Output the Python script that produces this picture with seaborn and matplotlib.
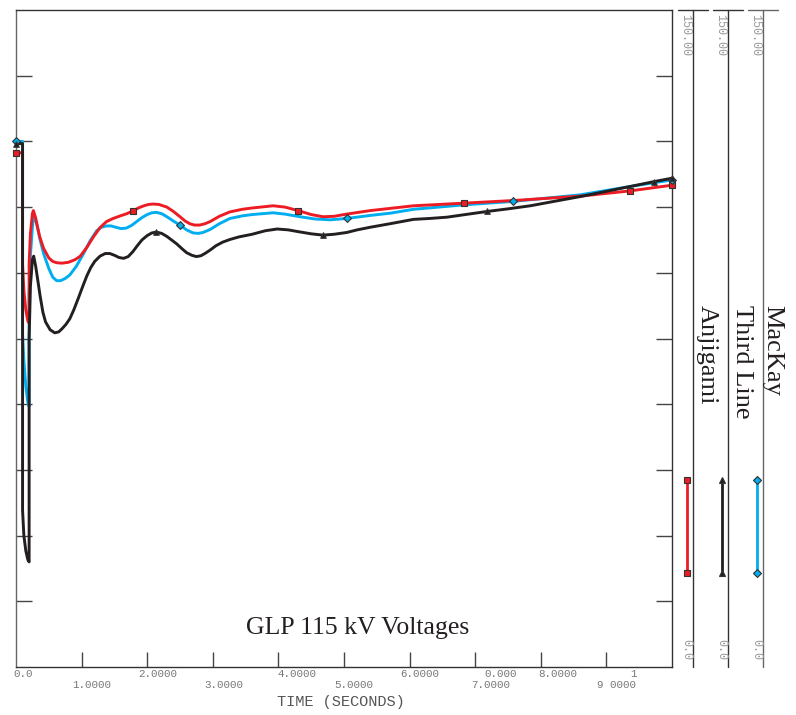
import numpy as np
import pandas as pd
import matplotlib
matplotlib.use("Agg")
import matplotlib.pyplot as plt
import matplotlib.transforms as mtransforms
from matplotlib.lines import Line2D
import seaborn as sns

# ---------------- data ----------------
time_anjigami = [0.0, 0.1, 0.1, 0.12, 0.15, 0.18, 0.2, 0.2, 0.22, 0.25, 0.265, 0.3, 0.33, 0.36,
                 0.42, 0.5, 0.56, 0.62, 0.7, 0.8, 0.9, 0.98, 1.08, 1.18, 1.28, 1.38, 1.48,
                 1.59, 1.69, 1.79, 1.88, 1.95, 2.02, 2.09, 2.18, 2.3, 2.4, 2.5, 2.58, 2.65,
                 2.72, 2.8, 2.88, 2.96, 3.1, 3.26, 3.45, 3.6, 3.92, 4.1, 4.30, 4.5, 4.68,
                 4.85, 5.04, 5.4, 5.7, 6.06, 6.83, 7.58, 8.6, 9.36, 10.0]
volt_anjigami = [117.4, 117.4, 92.0, 86.0, 81.5, 79.0, 78.5, 92.0, 99.0, 103.5, 104.2, 102.5, 100.3, 98.3,
                 95.6, 93.4, 92.6, 92.3, 92.2, 92.4, 93.0, 93.8, 95.8, 98.2, 100.3, 101.7, 102.4,
                 103.0, 103.5, 104.2, 104.9, 105.3, 105.6, 105.7, 105.6, 105.0, 104.0, 102.8, 101.8, 101.2,
                 100.9, 100.9, 101.2, 101.7, 102.9, 103.9, 104.5, 104.8, 105.3, 105.0, 104.2, 103.3, 102.8,
                 102.9, 103.4, 104.2, 104.7, 105.3, 105.9, 106.5, 107.5, 108.7, 110.0]

time_third = [0.0, 0.1, 0.1, 0.12, 0.15, 0.18, 0.2, 0.2, 0.22, 0.25, 0.27, 0.3, 0.33, 0.37,
              0.41, 0.45, 0.52, 0.59, 0.65, 0.7, 0.76, 0.82, 0.88, 0.95, 1.02, 1.08, 1.14,
              1.2, 1.28, 1.36, 1.43, 1.5, 1.57, 1.64, 1.71, 1.78, 1.85, 1.92, 2.0, 2.07,
              2.14, 2.22, 2.3, 2.38, 2.45, 2.53, 2.6, 2.68, 2.75, 2.82, 2.89, 2.96, 3.05,
              3.15, 3.26, 3.4, 3.6, 3.8, 3.98, 4.15, 4.3, 4.5, 4.68, 4.85, 5.04, 5.2,
              5.4, 5.7, 6.06, 6.3, 6.57, 6.85, 7.18, 7.5, 7.84, 8.2, 8.6, 9.0, 9.36, 9.72, 10.0]
volt_third = [119.5, 119.5, 35.8, 30.0, 26.5, 24.5, 24.0, 75.0, 87.0, 93.0, 93.8, 91.5, 88.5, 84.5,
              81.0, 78.8, 77.0, 76.3, 76.5, 77.2, 78.2, 79.5, 81.5, 84.2, 87.0, 89.3, 91.2,
              92.6, 93.8, 94.4, 94.4, 94.0, 93.5, 93.3, 93.7, 94.8, 96.2, 97.5, 98.5, 99.1,
              99.3, 99.0, 98.3, 97.4, 96.6, 95.5, 94.6, 94.0, 93.7, 93.9, 94.5, 95.2, 96.2,
              97.0, 97.6, 98.2, 98.8, 99.6, 100.0, 99.8, 99.4, 98.9, 98.6, 98.8, 99.2, 99.8,
              100.4, 101.2, 102.2, 102.4, 102.7, 103.3, 104.0, 104.6, 105.3, 106.3, 107.4, 108.6, 109.7, 110.8, 111.6]

time_mackay = [0.0, 0.1, 0.1, 0.12, 0.15, 0.18, 0.2, 0.2, 0.22, 0.25, 0.27, 0.3, 0.33, 0.36,
               0.42, 0.5, 0.56, 0.62, 0.68, 0.75, 0.82, 0.92, 1.03, 1.13, 1.23, 1.3, 1.38,
               1.45, 1.52, 1.6, 1.68, 1.76, 1.84, 1.92, 2.0, 2.07, 2.14, 2.22, 2.3, 2.4,
               2.5, 2.6, 2.7, 2.78, 2.85, 2.96, 3.1, 3.26, 3.45, 3.6, 3.92, 4.1, 4.33,
               4.55, 4.79, 5.04, 5.4, 5.7, 6.06, 6.82, 7.58, 8.6, 9.36, 10.0]
volt_mackay = [120.0, 120.0, 76.0, 70.0, 64.0, 60.5, 59.5, 85.0, 94.0, 100.5, 103.2, 102.0, 100.2, 98.0,
               94.4, 91.0, 89.0, 88.2, 88.2, 88.7, 89.5, 91.5, 94.4, 97.3, 99.6, 100.4, 100.7,
               100.7, 100.4, 100.1, 100.2, 100.8, 101.7, 102.6, 103.3, 103.7, 103.8, 103.5, 102.8, 101.8,
               100.9, 99.8, 99.1, 99.0, 99.2, 99.9, 101.2, 102.4, 103.0, 103.3, 103.7, 103.4, 102.8,
               102.3, 102.1, 102.4, 103.1, 103.6, 104.5, 105.5, 106.3, 107.8, 109.7, 111.2]

marker_times_anjigami = [0.0, 1.79, 4.30, 6.83, 9.36, 10.0]
marker_times_third = [0.0, 2.14, 4.68, 7.18, 9.72, 10.0]
marker_times_mackay = [0.0, 2.50, 5.04, 7.58, 10.0]

series_names = ["Anjigami", "Third Line", "MacKay"]
x_tick_values = [1, 2, 3, 4, 5, 6, 7, 8, 9]
y_tick_values = [15, 30, 45, 60, 75, 90, 105, 120, 135]
x_tick_labels = ["0.0", "1.0000", "2.0000", "3.0000", "4.0000", "5.0000", "6.0000",
                 "0.000", "7.0000", "8.0000", "9 0000", "1"]
x_tick_label_pos = [0.114, 1.159, 2.165, 3.17, 4.28, 5.15, 6.16, 7.39, 7.24, 8.26, 9.16, 9.41]
x_tick_label_row = [0, 1, 0, 1, 0, 1, 0, 0, 1, 0, 1, 0]
axis_top_label = "150.00"
axis_bottom_label = "0.0"
title_text = "GLP 115 kV Voltages"
xlabel_text = "TIME (SECONDS)"

RED = "#ED1C24"
BLUE = "#00AEEF"
BLACK = "#231F20"

# ---------------- figure ----------------
sns.set_style("white")
W, H = 796, 715
fig = plt.figure(figsize=(W / 100, H / 100), dpi=100)
L, R, T, B = 16, 672, 10, 667
ax = fig.add_axes([L / W, 1 - B / H, (R - L) / W, (B - T) / H])


def fx(px):
    return px / W


def fy(py):
    return 1 - py / H


df_a = pd.DataFrame({"t": time_anjigami, "v": volt_anjigami})
df_t = pd.DataFrame({"t": time_third, "v": volt_third})
df_m = pd.DataFrame({"t": time_mackay, "v": volt_mackay})

lw = 2.1
line_kw = dict(sort=False, estimator=None, lw=lw, ax=ax, solid_joinstyle="round", solid_capstyle="round")
sns.lineplot(data=df_m, x="t", y="v", color=BLUE, zorder=3, **line_kw)
sns.lineplot(data=df_a, x="t", y="v", color=RED, zorder=4, **line_kw)
sns.lineplot(data=df_t, x="t", y="v", color=BLACK, zorder=5, **line_kw)


def pick(df, times):
    mask = np.zeros(len(df), dtype=bool)
    for tt in times:
        idx = np.where(np.isclose(df["t"].values, tt))[0]
        if len(idx):
            mask[idx[0]] = True
    return df[mask]


mk = dict(s=16, linewidth=0.8, edgecolor="#333333", zorder=6, clip_on=False, ax=ax, legend=False)
sns.scatterplot(data=pick(df_a, marker_times_anjigami), x="t", y="v", marker="s", color=RED, **mk)
sns.scatterplot(data=pick(df_m, marker_times_mackay), x="t", y="v", marker="D", color=BLUE, **mk)
sns.scatterplot(data=pick(df_t, marker_times_third), x="t", y="v", marker="^", color=BLACK, **mk)

ax.set_xlim(0, 10)
ax.set_ylim(0, 150)
ax.set_xticks(x_tick_values)
ax.set_yticks(y_tick_values)
ax.tick_params(axis="x", direction="in", length=11, width=1, colors="#444444",
               bottom=True, top=False, labelbottom=False)
ax.tick_params(axis="y", direction="in", length=11.5, width=1, colors="#444444",
               left=True, right=True, labelleft=False, labelright=False)
ax.set_xlabel("")
ax.set_ylabel("")
for side, c in [("left", "#666666"), ("bottom", "#333333"), ("right", "#333333"), ("top", "#333333")]:
    ax.spines[side].set_visible(True)
    ax.spines[side].set_color(c)
    ax.spines[side].set_linewidth(1.0)

# x tick labels (two staggered rows)
blend = mtransforms.blended_transform_factory(ax.transData, ax.transAxes)
row_y = [-(674 - B) / (B - T), -(685 - B) / (B - T)]
for lab, pos, row in zip(x_tick_labels, x_tick_label_pos, x_tick_label_row):
    ax.text(pos, row_y[row], lab, transform=blend, ha="center", va="center",
            fontsize=7.8, family="Liberation Mono", color="#777777", clip_on=False)

fig.text(fx(341), fy(702), xlabel_text, ha="center", va="center",
         fontsize=11, family="Liberation Mono", color="#555555")

# title inside plot
ax.text((358 - L) / (R - L), (B - 634) / (B - T), title_text, transform=ax.transAxes,
        ha="center", va="baseline", fontsize=18.5, family="Liberation Serif", color="#231F20")

# ---------------- right-hand channel columns ----------------
col_x = [693, 728, 763]
col_color = ["#333333", "#333333", "#666666"]
sample_x = [687, 722, 757]
sample_color = [RED, BLACK, BLUE]
sample_marker = ["s", "^", "D"]
name_x = [707, 742, 772]
for i in range(3):
    cx = col_x[i]
    fig.add_artist(Line2D([fx(cx), fx(cx)], [fy(T), fy(B)], color=col_color[i], lw=1.0))
    fig.add_artist(Line2D([fx(cx - 15), fx(cx + 15)], [fy(T), fy(T)], color=col_color[i], lw=1.0))
    fig.text(fx(cx - 8), fy(14), axis_top_label, rotation=-90, ha="center", va="top",
             fontsize=8.5, family="Liberation Mono", color="#999999")
    fig.text(fx(cx - 7), fy(660), axis_bottom_label, rotation=-90, ha="center", va="bottom",
             fontsize=8.5, family="Liberation Mono", color="#999999")
    fig.text(fx(name_x[i]), fy(305), series_names[i], rotation=-90, ha="center", va="top",
             fontsize=19, family="Liberation Serif", color="#231F20")
    sx = sample_x[i]
    fig.add_artist(Line2D([fx(sx), fx(sx)], [fy(480), fy(573)], color=sample_color[i], lw=2.0,
                          marker=sample_marker[i], markersize=4.5, markeredgecolor="#333333",
                          markerfacecolor=sample_color[i], markeredgewidth=0.8))

fig.savefig("out.png", dpi=100)
